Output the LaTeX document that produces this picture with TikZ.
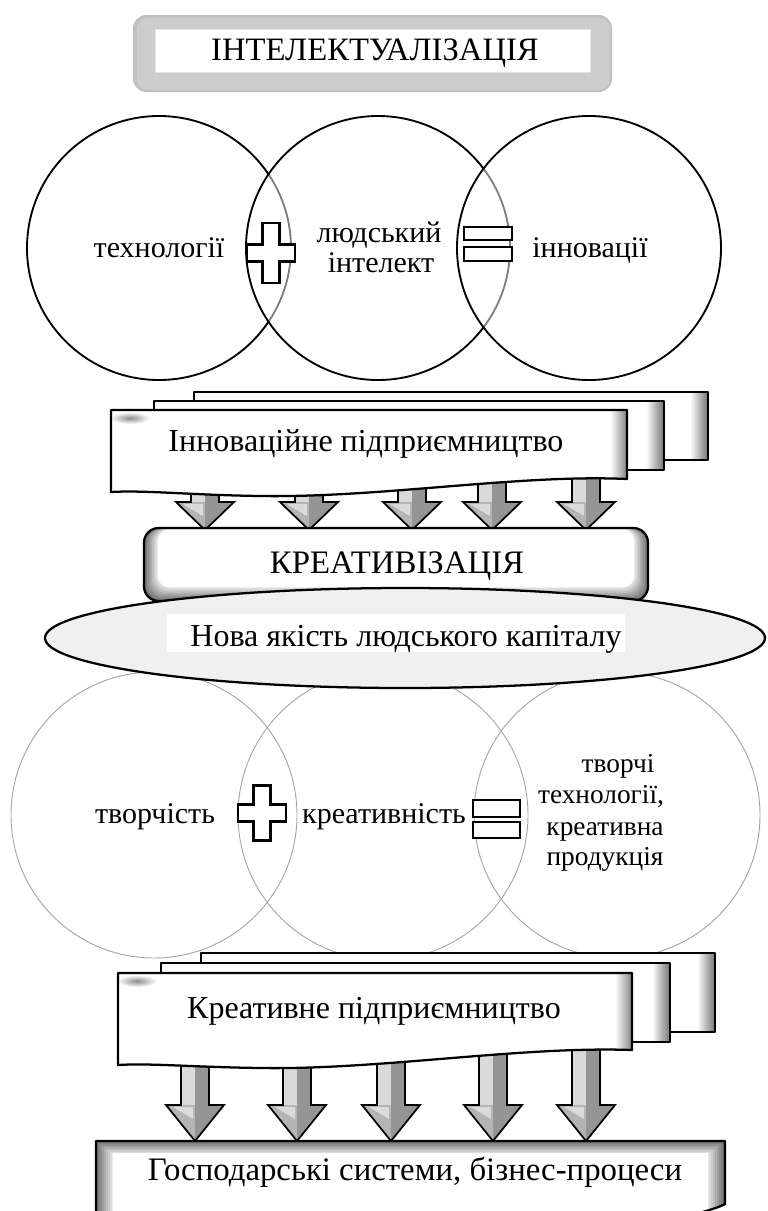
\documentclass[tikz,border=0pt]{standalone}
\usepackage{fontspec}
\setmainfont{Liberation Serif}
\newfontfamily\myserif{Liberation Serif}
\definecolor{framegray}{HTML}{CDCDCD}
\definecolor{framedark}{HTML}{C0C0C0}
\definecolor{ellfill}{HTML}{F0F0F0}
\definecolor{lcircgray}{HTML}{A6A6A6}
\definecolor{arrlight}{HTML}{DADADA}
\definecolor{arrmid}{HTML}{B4B4B4}
\definecolor{arrdark}{HTML}{959595}
\tikzset{
  txt/.style={font=\myserif\fontsize{22.5}{23}\selectfont, inner sep=0pt},
  smalltxt/.style={font=\myserif\fontsize{20.5}{21}\selectfont, inner sep=0pt},
  bigtxt/.style={font=\myserif\fontsize{24}{24}\selectfont, inner sep=0pt},
  hugetxt/.style={font=\myserif\fontsize{24.6}{25}\selectfont, inner sep=0pt},
  ttltxt/.style={font=\myserif\fontsize{24.5}{25}\selectfont, inner sep=0pt},
  circ/.style={draw=black, line width=1.4pt},
  fadecirc/.style={circ, fill=white, fill opacity=0.5},
  lcirc/.style={draw=lcircgray, line width=0.7pt},
  sym/.style={draw=black, line width=2pt, fill=white, line join=miter},
  border/.style={draw=black, line width=1.7pt, line join=round},
  arrline/.style={draw=black, line width=1.3pt, line join=miter},
}
% plus sign: centre x, centre y, half height
\newcommand{\plusSign}[3]{%
  \draw[sym] (#1-8.5,#2-#3) -- (#1+8.5,#2-#3) -- (#1+8.5,#2-8.5) -- (#1+24,#2-8.5) -- (#1+24,#2+8.5) -- (#1+8.5,#2+8.5) -- (#1+8.5,#2+#3) -- (#1-8.5,#2+#3) -- (#1-8.5,#2+8.5) -- (#1-24,#2+8.5) -- (#1-24,#2-8.5) -- (#1-8.5,#2-8.5) -- cycle;}
% block arrow: x, y top, y tip, head height
\newcommand{\blockArrow}[4]{%
  \fill[arrlight] (#1-14,#2) rectangle (#1,#3-#4);
  \fill[arrdark] (#1,#2) rectangle (#1+14,#3-#4);
  \fill[arrmid] (#1-29,#3-#4) -- (#1,#3-#4) -- (#1,#3) -- cycle;
  \fill[arrdark] (#1,#3-#4) -- (#1+29,#3-#4) -- (#1,#3) -- cycle;
  \fill[arrlight] (#1-22,#3-#4+2) -- (#1-2,#3-#4+2) -- (#1-2,#3-#4+14) -- cycle;
  \draw[arrline] (#1-14,#2) -- (#1-14,#3-#4) -- (#1-29,#3-#4) -- (#1,#3) -- (#1+29,#3-#4) -- (#1+14,#3-#4) -- (#1+14,#2);}
% back sheet of a stack: x1, y1, x2, y2
\newcommand{\backSheet}[4]{%
  \fill[white] (#1,#2) rectangle (#3,#4);
  \shade[left color=white, right color=black!55] (#3-18,#2) rectangle (#3,#4);
  \draw[border] (#1,#2) rectangle (#3,#4);}
\begin{document}
\begin{tikzpicture}[x=0.75pt,y=-0.75pt]
\useasboundingbox (0,0) rectangle (768,1211);
\clip (0,0) rectangle (768,1211);

% ---------- title frame ----------
\fill[framedark, rounded corners=10] (133,15) rectangle (612,92);
\fill[framegray, rounded corners=8] (137,18) rectangle (610,90);
\fill[white] (155,29) rectangle (590,72);
\draw[black!10, line width=0.5pt] (155,29) rectangle (590,72);
\node[ttltxt, anchor=base] (ttl) at (375,60) {ІНТЕЛЕКТУАЛІЗАЦІЯ};

% ---------- top circles ----------
\draw[circ] (159,248) circle [radius=132];
\draw[fadecirc] (378,248) circle [radius=132];
\draw[fadecirc] (589,248) circle [radius=132];
\plusSign{271}{253}{30}
\draw[sym] (464,227) rectangle (512,240);
\draw[sym] (464,247) rectangle (512,261);
\node[txt, anchor=base] (tech) at (159,257) {технології};
\node[txt, anchor=base] (hum1) at (379,242) {людський};
\node[txt, anchor=base] (hum2) at (381,272) {інтелект};
\node[txt, anchor=base] (innov) at (590,257) {інновації};

% ---------- lower circles (behind ellipse) ----------
\draw[lcirc] (154,815) circle [radius=143];
\draw[lcirc] (383,815) circle [radius=145];
\draw[lcirc] (617,815) circle [radius=143];

% ---------- upper arrows ----------
\foreach \ax in {205,309,412,492,586} {\blockArrow{\ax}{470}{530}{28}}

% ---------- upper stack ----------
\backSheet{194}{392}{708}{460}
\backSheet{154}{401}{664}{470}
\fill[white] (111,410) -- (627,410) -- (627,479) .. controls (520,474) and (380,498) .. (260,496) .. controls (190,495) and (145,490) .. (111,492) -- cycle;
\shade[left color=white, right color=black!45] (610,411) rectangle (626,479);
\shade[inner color=black!45, outer color=white] (130,418) ellipse [x radius=20, y radius=6];
\draw[border] (111,410) -- (627,410) -- (627,479) .. controls (520,474) and (380,498) .. (260,496) .. controls (190,495) and (145,490) .. (111,492) -- cycle;
\node[bigtxt, anchor=base] (innent) at (366,451) {Інноваційне підприємництво};

% ---------- KREATYVIZATSIIA box ----------
\foreach \i [evaluate=\i as \g using {int(56-6*\i)}] in {0,...,8} {
  \fill[black!\g, rounded corners=11] (144+1.6*\i,528) rectangle (648-1.6*\i,601-1.6*\i);}
\fill[white, rounded corners=8] (158,530) rectangle (634,587);
\draw[border, rounded corners=11] (144,528) rectangle (648,601);
\node[hugetxt, anchor=base] (creat) at (397,573) {КРЕАТИВІЗАЦІЯ};

% ---------- ellipse ----------
\draw[border, fill=ellfill] (405,638) ellipse [x radius=360, y radius=50];
\fill[white] (167,614) rectangle (625,652);
\node[bigtxt, anchor=base] (newq) at (406,646) {Нова якість людського капіталу};

% ---------- lower symbols and texts ----------
\plusSign{262}{813}{27.5}
\draw[sym] (473,800) rectangle (520,817);
\draw[sym] (473,822) rectangle (520,838);
\node[txt, anchor=base] (tvor) at (155,823) {творчість};
\node[txt, anchor=base] (kreat) at (384,823) {креативність};
\node[smalltxt, anchor=base] (res1) at (618,772) {творчі};
\node[smalltxt, anchor=base] (res2) at (601,803) {технології,};
\node[smalltxt, anchor=base] (res3) at (605,835) {креативна};
\node[smalltxt, anchor=base] (res4) at (605,865) {продукція};

% ---------- lower arrows ----------
\foreach \ax in {195,297,391,493,586} {\blockArrow{\ax}{1045}{1141}{36}}

% ---------- lower stack ----------
\backSheet{201}{953}{715}{1032}
\backSheet{161}{963}{670}{1042}
\fill[white] (118,973) -- (632,973) -- (632,1050) .. controls (520,1046) and (380,1070) .. (260,1068) .. controls (190,1067) and (150,1063) .. (118,1065) -- cycle;
\shade[left color=white, right color=black!45] (615,974) rectangle (631,1050);
\shade[inner color=black!45, outer color=white] (137,981) ellipse [x radius=20, y radius=6];
\draw[border] (118,973) -- (632,973) -- (632,1050) .. controls (520,1046) and (380,1070) .. (260,1068) .. controls (190,1067) and (150,1063) .. (118,1065) -- cycle;
\node[bigtxt, anchor=base] (crent) at (374,1018) {Креативне підприємництво};

% ---------- bottom box ----------
\begin{scope}
\clip (96,1141) -- (725,1141) -- (725,1204) .. controls (705,1215) and (600,1240) .. (400,1240) -- (96,1240) -- cycle;
\foreach \i [evaluate=\i as \g using {int(56-6*\i)}] in {0,...,8} {
  \fill[black!\g] (96+2*\i,1141+1.5*\i) rectangle (725-2*\i,1240);}
\fill[white] (113,1153) rectangle (708,1240);
\end{scope}
\draw[border] (96,1141) -- (725,1141) -- (725,1204) .. controls (705,1215) and (600,1240) .. (400,1240) -- (96,1240) -- cycle;
\node[hugetxt, anchor=base] (biz) at (415,1180) {Господарські системи, бізнес-процеси};
\end{tikzpicture}
\end{document}
